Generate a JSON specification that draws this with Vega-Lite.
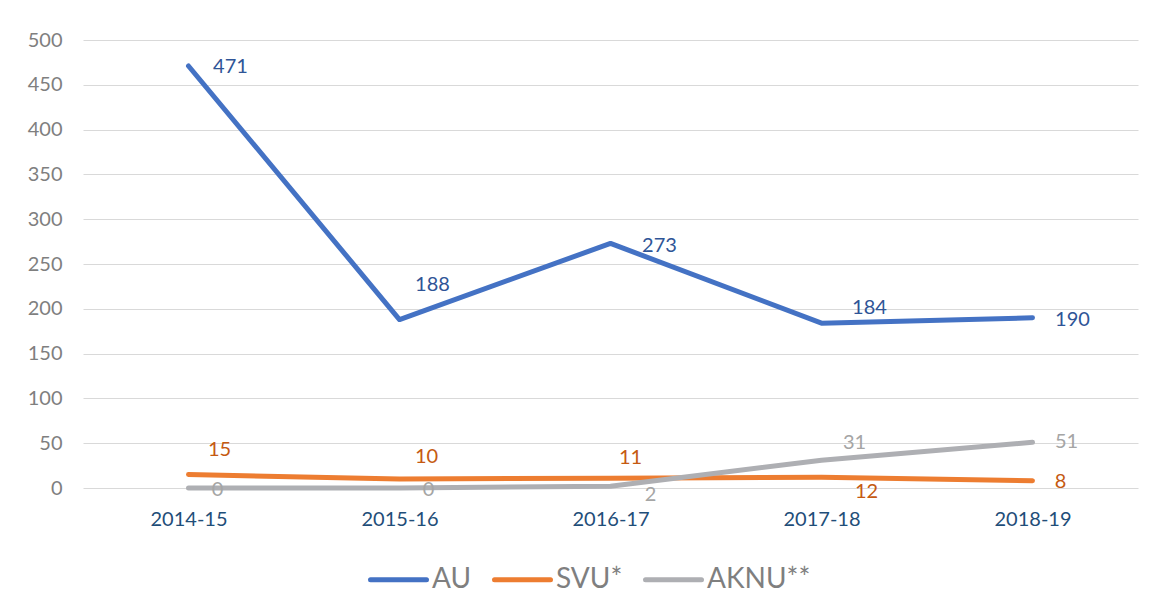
{
  "$schema": "https://vega.github.io/schema/vega-lite/v6.json",
  "width": 1055,
  "height": 448,
  "autosize": {"type": "none"},
  "padding": {"left": 83, "top": 40, "right": 16, "bottom": 125},
  "background": "white",
  "config": {
    "view": {"stroke": null},
    "font": "Lato",
    "axis": {"labelFont": "Lato", "labelFontSize": 20, "grid": false, "domain": false, "ticks": false, "title": null}
  },
  "data": {
    "values": [
      {"year": "2014-15", "series": "AU", "value": 471},
      {"year": "2015-16", "series": "AU", "value": 188},
      {"year": "2016-17", "series": "AU", "value": 273},
      {"year": "2017-18", "series": "AU", "value": 184},
      {"year": "2018-19", "series": "AU", "value": 190},
      {"year": "2014-15", "series": "SVU*", "value": 15},
      {"year": "2015-16", "series": "SVU*", "value": 10},
      {"year": "2016-17", "series": "SVU*", "value": 11},
      {"year": "2017-18", "series": "SVU*", "value": 12},
      {"year": "2018-19", "series": "SVU*", "value": 8},
      {"year": "2014-15", "series": "AKNU**", "value": 0},
      {"year": "2015-16", "series": "AKNU**", "value": 0},
      {"year": "2016-17", "series": "AKNU**", "value": 2},
      {"year": "2017-18", "series": "AKNU**", "value": 31},
      {"year": "2018-19", "series": "AKNU**", "value": 51}
    ]
  },
  "encoding": {
    "x": {
      "field": "year", "type": "ordinal",
      "sort": ["2014-15", "2015-16", "2016-17", "2017-18", "2018-19"],
      "axis": {"labelAngle": 0, "labelColor": "#1F4E79", "labelPadding": 21, "domain": false}
    },
    "y": {
      "field": "value", "type": "quantitative",
      "scale": {"domain": [0, 500], "nice": false, "zero": true},
      "axis": {"values": [0, 50, 100, 150, 200, 250, 300, 350, 400, 450, 500], "grid": true, "gridColor": "#D9D9D9", "gridWidth": 1, "labelColor": "#7F7F7F", "labelPadding": 21}
    }
  },
  "layer": [
    {
      "mark": {"type": "line", "strokeWidth": 5, "strokeCap": "round", "strokeJoin": "round"},
      "encoding": {
        "color": {
          "field": "series", "type": "nominal",
          "scale": {"domain": ["AU", "SVU*", "AKNU**"], "range": ["#4472C4", "#ED7D31", "#AEAFB3"]},
          "legend": {
            "title": null, "orient": "none", "direction": "horizontal",
            "legendX": 285, "legendY": 509,
            "symbolType": "stroke", "symbolSize": 3136, "symbolStrokeWidth": 5,
            "labelFont": "Lato", "labelFontSize": 28, "labelColor": "#7F7F7F",
            "labelOffset": 3, "columnPadding": 12, "labelLimit": 300,
            "encode": {"symbols": {"update": {"strokeCap": {"value": "round"}}}}
          }
        }
      }
    },
    {"transform": [{"filter": "datum.series == 'AU' && datum.year == '2014-15'"}], "mark": {"type": "text", "fontSize": 20, "color": "#2F5597", "dx": 42, "dy": 1}, "encoding": {"text": {"field": "value"}}},
    {"transform": [{"filter": "datum.series == 'AU' && datum.year == '2015-16'"}], "mark": {"type": "text", "fontSize": 20, "color": "#2F5597", "dx": 33, "dy": -35}, "encoding": {"text": {"field": "value"}}},
    {"transform": [{"filter": "datum.series == 'AU' && datum.year == '2016-17'"}], "mark": {"type": "text", "fontSize": 20, "color": "#2F5597", "dx": 49, "dy": 3}, "encoding": {"text": {"field": "value"}}},
    {"transform": [{"filter": "datum.series == 'AU' && datum.year == '2017-18'"}], "mark": {"type": "text", "fontSize": 20, "color": "#2F5597", "dx": 48, "dy": -15}, "encoding": {"text": {"field": "value"}}},
    {"transform": [{"filter": "datum.series == 'AU' && datum.year == '2018-19'"}], "mark": {"type": "text", "fontSize": 20, "color": "#2F5597", "dx": 40, "dy": 2}, "encoding": {"text": {"field": "value"}}},
    {"transform": [{"filter": "datum.series == 'SVU*' && datum.year == '2014-15'"}], "mark": {"type": "text", "fontSize": 20, "color": "#C55A11", "dx": 31, "dy": -25}, "encoding": {"text": {"field": "value"}}},
    {"transform": [{"filter": "datum.series == 'SVU*' && datum.year == '2015-16'"}], "mark": {"type": "text", "fontSize": 20, "color": "#C55A11", "dx": 27, "dy": -22}, "encoding": {"text": {"field": "value"}}},
    {"transform": [{"filter": "datum.series == 'SVU*' && datum.year == '2016-17'"}], "mark": {"type": "text", "fontSize": 20, "color": "#C55A11", "dx": 20, "dy": -20}, "encoding": {"text": {"field": "value"}}},
    {"transform": [{"filter": "datum.series == 'SVU*' && datum.year == '2017-18'"}], "mark": {"type": "text", "fontSize": 20, "color": "#C55A11", "dx": 45, "dy": 15}, "encoding": {"text": {"field": "value"}}},
    {"transform": [{"filter": "datum.series == 'SVU*' && datum.year == '2018-19'"}], "mark": {"type": "text", "fontSize": 20, "color": "#C55A11", "dx": 28, "dy": 1}, "encoding": {"text": {"field": "value"}}},
    {"transform": [{"filter": "datum.series == 'AKNU**' && datum.year == '2014-15'"}], "mark": {"type": "text", "fontSize": 20, "color": "#A5A5A5", "dx": 29, "dy": 2}, "encoding": {"text": {"field": "value"}}},
    {"transform": [{"filter": "datum.series == 'AKNU**' && datum.year == '2015-16'"}], "mark": {"type": "text", "fontSize": 20, "color": "#A5A5A5", "dx": 29, "dy": 2}, "encoding": {"text": {"field": "value"}}},
    {"transform": [{"filter": "datum.series == 'AKNU**' && datum.year == '2016-17'"}], "mark": {"type": "text", "fontSize": 20, "color": "#A5A5A5", "dx": 40, "dy": 9}, "encoding": {"text": {"field": "value"}}},
    {"transform": [{"filter": "datum.series == 'AKNU**' && datum.year == '2017-18'"}], "mark": {"type": "text", "fontSize": 20, "color": "#A5A5A5", "dx": 33, "dy": -17}, "encoding": {"text": {"field": "value"}}},
    {"transform": [{"filter": "datum.series == 'AKNU**' && datum.year == '2018-19'"}], "mark": {"type": "text", "fontSize": 20, "color": "#A5A5A5", "dx": 34, "dy": 0}, "encoding": {"text": {"field": "value"}}}
  ]
}
